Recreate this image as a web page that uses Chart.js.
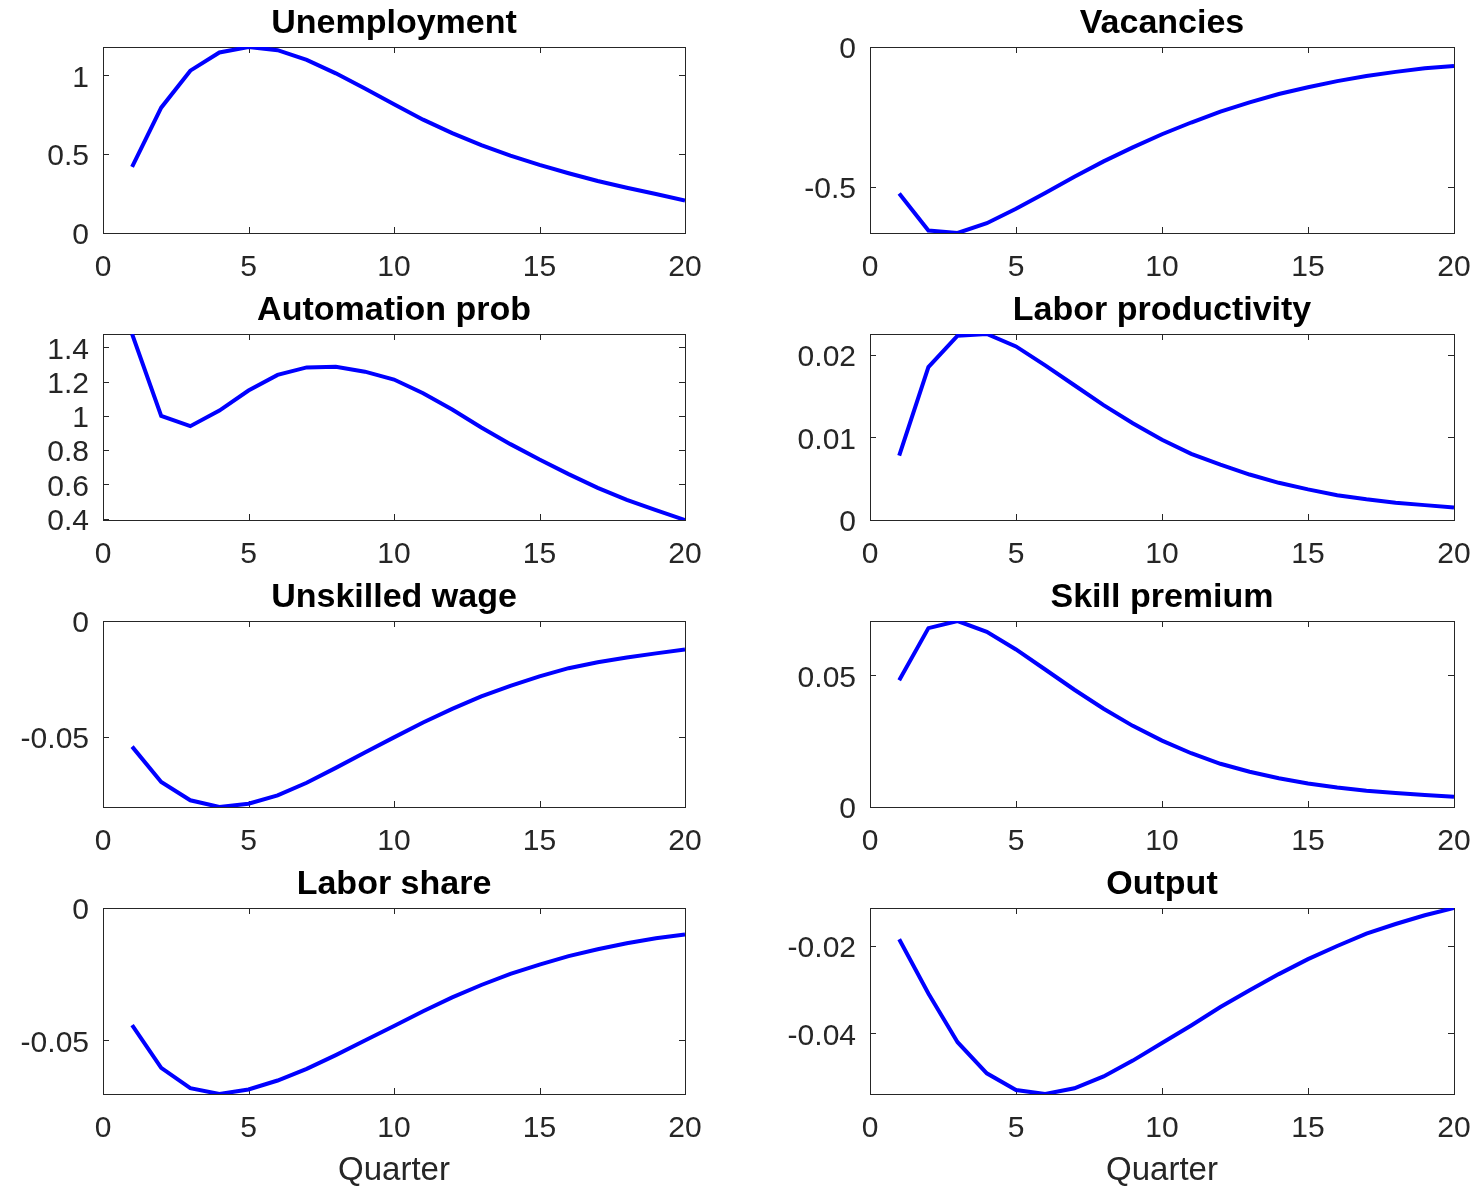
<!DOCTYPE html>
<html>
<head>
<meta charset="utf-8">
<script src="https://cdn.jsdelivr.net/npm/chart.js@4.4.0/dist/chart.umd.min.js"></script>
<style>
  body { margin: 0; background: #fff; width: 1473px; height: 1186px; position: relative; overflow: hidden; }
  canvas { position: absolute; }
</style>
</head>
<body>
<script>
// impulse responses, quarters 1..20
var quarters = [1, 2, 3, 4, 5, 6, 7, 8, 9, 10, 11, 12, 13, 14, 15, 16, 17, 18, 19, 20];
var xTicks = [0, 5, 10, 15, 20];

var unemployment = [0.42, 0.795, 1.03, 1.145, 1.18, 1.16, 1.098, 1.013, 0.917, 0.817, 0.719, 0.634, 0.557, 0.491, 0.432, 0.379, 0.33, 0.287, 0.247, 0.206];
var vacancies = [-0.524, -0.656, -0.665, -0.63, -0.578, -0.522, -0.464, -0.409, -0.359, -0.312, -0.27, -0.231, -0.198, -0.168, -0.144, -0.122, -0.104, -0.089, -0.076, -0.068];
var automationProb = [1.478, 1.0, 0.94, 1.031, 1.148, 1.239, 1.283, 1.287, 1.258, 1.212, 1.132, 1.037, 0.932, 0.835, 0.745, 0.66, 0.58, 0.51, 0.45, 0.392];
var laborProductivity = [0.0078, 0.0185, 0.0223, 0.0225, 0.021, 0.0187, 0.0163, 0.0139, 0.0117, 0.0097, 0.008, 0.0067, 0.0055, 0.0045, 0.0037, 0.003, 0.0025, 0.0021, 0.0018, 0.0015];
var unskilledWage = [-0.0543, -0.0696, -0.0775, -0.0804, -0.079, -0.0754, -0.0699, -0.0635, -0.0568, -0.0503, -0.0439, -0.038, -0.0326, -0.028, -0.0239, -0.0204, -0.0178, -0.0158, -0.014, -0.0123];
var skillPremium = [0.0481, 0.0679, 0.0706, 0.0665, 0.0598, 0.0522, 0.0445, 0.0373, 0.0308, 0.0252, 0.0204, 0.0164, 0.0134, 0.0109, 0.0089, 0.0074, 0.0062, 0.0053, 0.0046, 0.0039];
var laborShare = [-0.0443, -0.0604, -0.0681, -0.0703, -0.0686, -0.0652, -0.0608, -0.0556, -0.0501, -0.0446, -0.039, -0.0338, -0.0291, -0.0249, -0.0214, -0.0182, -0.0156, -0.0133, -0.0114, -0.01];
var output = [-0.01855, -0.0309, -0.042, -0.0491, -0.0529, -0.0538, -0.0525, -0.0498, -0.0462, -0.0422, -0.0382, -0.034, -0.0302, -0.0265, -0.0231, -0.0201, -0.0173, -0.0151, -0.0131, -0.01145];

// y tick labels and y limits per panel
var unemploymentTicks = [0, 0.5, 1], unemploymentLim = [0, 1.18];
var vacanciesTicks = [-0.5, 0], vacanciesLim = [-0.665, 0];
var automationTicks = [0.4, 0.6, 0.8, 1, 1.2, 1.4], automationLim = [0.392, 1.478];
var productivityTicks = [0, 0.01, 0.02], productivityLim = [0, 0.0225];
var wageTicks = [-0.05, 0], wageLim = [-0.0804, 0];
var premiumTicks = [0, 0.05], premiumLim = [0, 0.0706];
var shareTicks = [-0.05, 0], shareLim = [-0.0703, 0];
var outputTicks = [-0.04, -0.02], outputLim = [-0.0538, -0.01145];

var panels = [
  { title: 'Unemployment', values: unemployment, ticks: unemploymentTicks, lim: unemploymentLim },
  { title: 'Vacancies', values: vacancies, ticks: vacanciesTicks, lim: vacanciesLim },
  { title: 'Automation prob', values: automationProb, ticks: automationTicks, lim: automationLim },
  { title: 'Labor productivity', values: laborProductivity, ticks: productivityTicks, lim: productivityLim },
  { title: 'Unskilled wage', values: unskilledWage, ticks: wageTicks, lim: wageLim },
  { title: 'Skill premium', values: skillPremium, ticks: premiumTicks, lim: premiumLim },
  { title: 'Labor share', values: laborShare, ticks: shareTicks, lim: shareLim },
  { title: 'Output', values: output, ticks: outputTicks, lim: outputLim }
];

var FONT = "'Liberation Sans', Arial, sans-serif";
var AXIS = '#262626';

// MATLAB-like box with inward ticks on all four sides
var boxPlugin = {
  id: 'box',
  beforeDatasetsDraw: function (chart) {
    var ctx = chart.ctx, a = chart.chartArea;
    var xs = chart.scales.x, ys = chart.scales.y;
    ctx.save();
    ctx.strokeStyle = AXIS;
    ctx.lineWidth = 1;
    ctx.beginPath();
    xs.ticks.forEach(function (t) {
      var px = Math.round(xs.getPixelForValue(t.value)) + 0.5;
      ctx.moveTo(px, a.bottom); ctx.lineTo(px, a.bottom - 6);
      ctx.moveTo(px, a.top); ctx.lineTo(px, a.top + 6);
    });
    ys.ticks.forEach(function (t) {
      var py = Math.round(ys.getPixelForValue(t.value)) + 0.5;
      ctx.moveTo(a.left, py); ctx.lineTo(a.left + 6, py);
      ctx.moveTo(a.right, py); ctx.lineTo(a.right - 6, py);
    });
    ctx.stroke();
    ctx.strokeRect(a.left + 0.5, a.top + 0.5, a.width, a.height);
    ctx.restore();
  }
};

var plotLeft = [103, 870], plotWidth = [582, 584];
var plotTop0 = 47, rowStep = 287, plotHeight = 186;
var yAxisW = 100, titleH = 44, padRight = 30;

panels.forEach(function (p, i) {
  var col = i % 2, row = Math.floor(i / 2);
  var last = row === 3;
  var xAxisH = last ? 97 : 55;
  var plotTop = plotTop0 + row * rowStep;

  var canvas = document.createElement('canvas');
  canvas.width = yAxisW + plotWidth[col] + padRight;
  canvas.height = titleH + plotHeight + xAxisH;
  canvas.style.left = (plotLeft[col] - yAxisW) + 'px';
  canvas.style.top = (plotTop - titleH) + 'px';
  document.body.appendChild(canvas);

  new Chart(canvas.getContext('2d'), {
    type: 'line',
    data: {
      datasets: [{
        data: quarters.map(function (q, k) { return { x: q, y: p.values[k] }; }),
        borderColor: '#0000ff',
        borderWidth: 4,
        pointRadius: 0,
        tension: 0,
        fill: false
      }]
    },
    options: {
      responsive: false,
      animation: false,
      events: [],
      layout: { padding: { left: 0, right: padRight, top: 0, bottom: 0 } },
      plugins: {
        legend: { display: false },
        tooltip: { enabled: false },
        title: {
          display: true,
          fullSize: false,
          text: p.title,
          color: '#000',
          font: { family: FONT, size: 34, weight: 'bold', lineHeight: 1.2 },
          padding: { top: 0, bottom: 3.2 }
        }
      },
      scales: {
        x: {
          type: 'linear',
          min: 0,
          max: 20,
          afterBuildTicks: function (s) { s.ticks = xTicks.map(function (v) { return { value: v }; }); },
          afterFit: function (s) { s.height = xAxisH; s.paddingLeft = 0; s.paddingRight = 0; },
          grid: { display: false, drawTicks: false, tickLength: 0 },
          border: { display: false },
          ticks: { color: AXIS, padding: 17, maxRotation: 0, autoSkip: false, font: { family: FONT, size: 30 } },
          title: {
            display: last,
            text: 'Quarter',
            color: AXIS,
            padding: { top: 0, bottom: 0 },
            font: { family: FONT, size: 33, lineHeight: 1.2 }
          }
        },
        y: {
          min: p.lim[0],
          max: p.lim[1],
          afterBuildTicks: function (s) { s.ticks = p.ticks.map(function (v) { return { value: v }; }); },
          afterFit: function (s) { s.width = yAxisW; },
          grid: { display: false, drawTicks: false, tickLength: 0 },
          border: { display: false },
          ticks: {
            color: AXIS,
            padding: 14,
            labelOffset: 3,
            autoSkip: false,
            font: { family: FONT, size: 30 },
            callback: function (v) { return String(+Number(v).toFixed(6)); }
          }
        }
      }
    },
    plugins: [boxPlugin]
  });
});
</script>
</body>
</html>
